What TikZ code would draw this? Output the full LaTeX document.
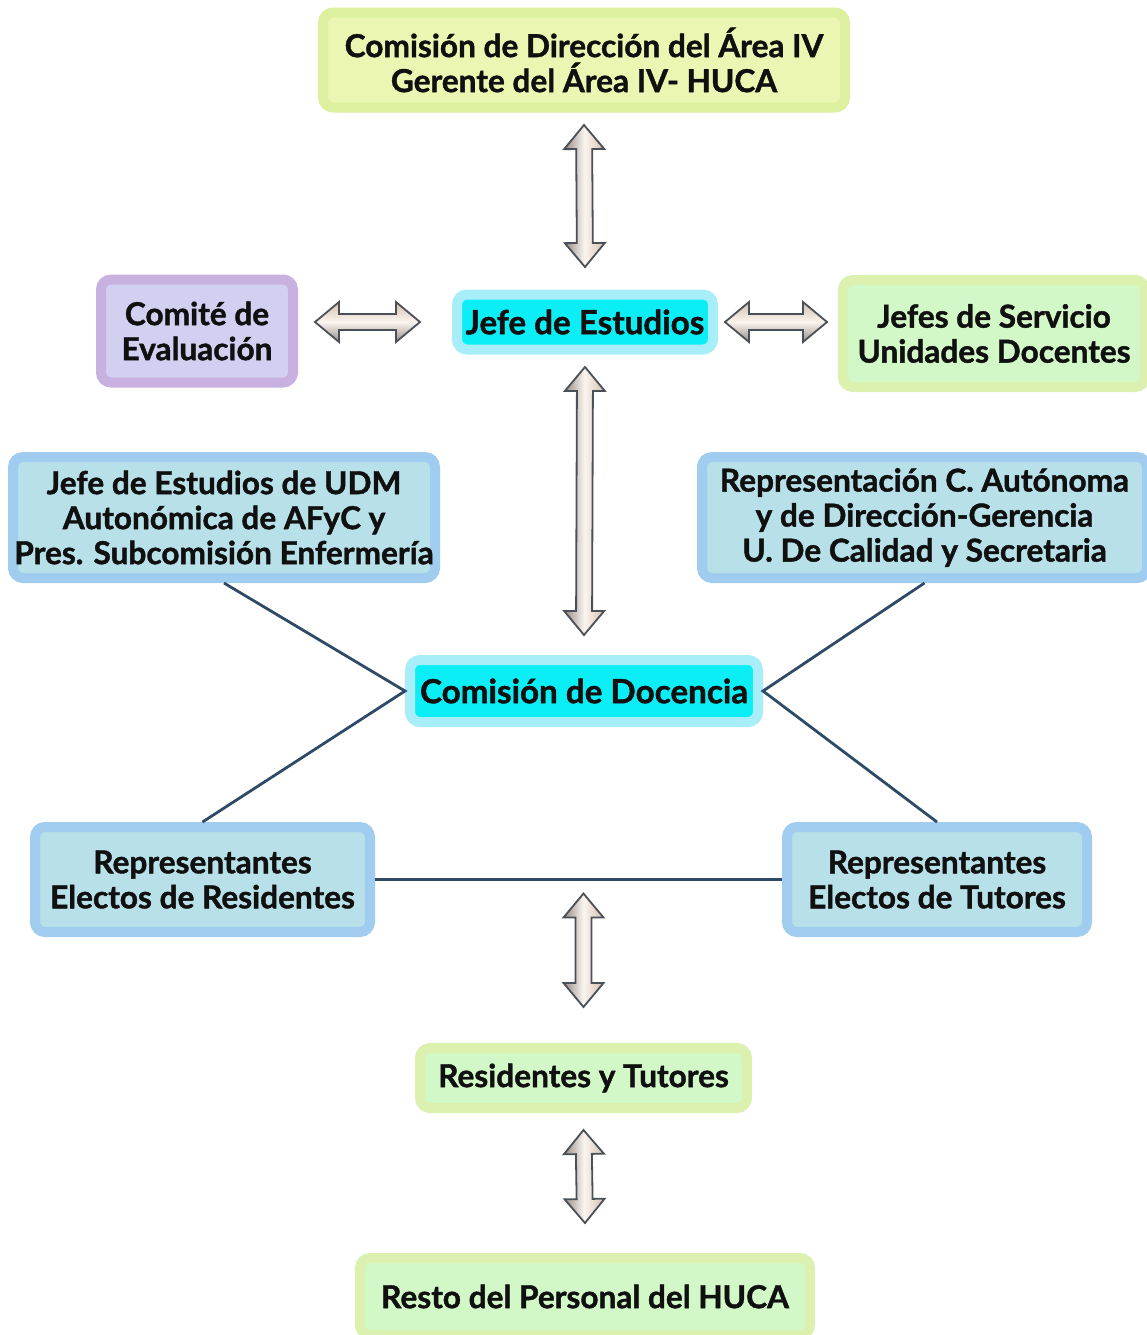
\documentclass[tikz,border=0pt]{standalone}
\usepackage{fontspec}
\setmainfont{Lato}[BoldFeatures={FakeBold=1.3}]
\usetikzlibrary{calc}
\definecolor{txt}{HTML}{101010}
\definecolor{ygfill}{HTML}{EAF6B2}
\definecolor{ygdraw}{HTML}{DDF0A0}
\definecolor{grfill}{HTML}{D2F8C8}
\definecolor{grdraw}{HTML}{DCF0B0}
\definecolor{pufill}{HTML}{D2D0F0}
\definecolor{pudraw}{HTML}{C8B0E0}
\definecolor{cyfill}{HTML}{0CEEF6}
\definecolor{cydraw}{HTML}{A8EEF8}
\definecolor{blfill}{HTML}{B8E0E8}
\definecolor{bldraw}{HTML}{A0CCF0}
\definecolor{arrdraw}{HTML}{4A5058}
\definecolor{arrL}{HTML}{948A84}
\definecolor{arrM}{HTML}{FBF5F0}
\definecolor{arrR}{HTML}{D2C0AE}
\definecolor{linec}{HTML}{2E4A66}
\begin{document}
\begin{tikzpicture}[x=0.5pt,y=-0.5pt,
  box/.style={rounded corners=5pt, line width=5pt, inner sep=0pt, align=center,
    font=\bfseries\fontsize{15.8}{17.5}\selectfont, text=txt},
  ygbox/.style={box, fill=ygfill, draw=ygdraw},
  grbox/.style={box, fill=grfill, draw=grdraw},
  pubox/.style={box, fill=pufill, draw=pudraw},
  cybox/.style={box, fill=cyfill, draw=cydraw, font=\bfseries\fontsize{16.6}{18}\selectfont},
  blbox/.style={box, fill=blfill, draw=bldraw},
  blockarrow/.style={draw=arrdraw, line width=0.9pt, line join=miter,
    to path={
      -- ($(\tikztostart)!12pt!(\tikztotarget)!10pt!90:(\tikztotarget)$)
      -- ($(\tikztostart)!12pt!(\tikztotarget)!4pt!90:(\tikztotarget)$)
      -- ($(\tikztotarget)!12pt!(\tikztostart)!4pt!-90:(\tikztostart)$)
      -- ($(\tikztotarget)!12pt!(\tikztostart)!10pt!-90:(\tikztostart)$)
      -- (\tikztotarget)
      -- ($(\tikztotarget)!12pt!(\tikztostart)!10pt!90:(\tikztostart)$)
      -- ($(\tikztotarget)!12pt!(\tikztostart)!4pt!90:(\tikztostart)$)
      -- ($(\tikztostart)!12pt!(\tikztotarget)!4pt!-90:(\tikztotarget)$)
      -- ($(\tikztostart)!12pt!(\tikztotarget)!10pt!-90:(\tikztotarget)$)
      -- cycle}},
  varrow/.style={blockarrow, left color=arrL, right color=arrR, middle color=arrM},
  harrow/.style={blockarrow, top color=arrR, bottom color=arrL, middle color=arrM},
  conn/.style={draw=linec, line width=1.4pt}
]
\useasboundingbox (0,0) rectangle (1147,1335);
\fill[white] (0,0) rectangle (1147,1335);

\node[ygbox, minimum width=261pt, minimum height=47.5pt] (top) at (584,60)
  {Comisión de Dirección del Área IV\\Gerente del Área IV- HUCA};
\node[pubox, minimum width=96pt, minimum height=51.5pt] (comite) at (197,331)
  {Comité de\\Evaluación};
\node[cybox, minimum width=128pt, minimum height=27.5pt] (jefe) at (585,322)
  {Jefe de Estudios};
\node[grbox, minimum width=151pt, minimum height=53.5pt] (servicio) at (994,333.5)
  {Jefes de Servicio\\Unidades Docentes};
\node[blbox, minimum width=211pt, minimum height=60.5pt] (udm) at (224,517.5)
  {Jefe de Estudios de UDM\\Autonómica de AFyC y\\Pres. Subcomisión Enfermería};
\node[blbox, minimum width=222.5pt, minimum height=60.5pt] (repr) at (924.5,517.5)
  {Representación C. Autónoma\\y de Dirección-Gerencia\\U. De Calidad y Secretaria};
\node[cybox, minimum width=174pt, minimum height=31pt] (docencia) at (584,691)
  {Comisión de Docencia};
\node[blbox, minimum width=167.5pt, minimum height=52.5pt] (resid) at (202.5,879.5)
  {Representantes\\Electos de Residentes};
\node[blbox, minimum width=150pt, minimum height=52.5pt] (tutores) at (937,879.5)
  {Representantes\\Electos de Tutores};
\node[grbox, minimum width=163.5pt, minimum height=30pt] (ryt) at (583.5,1078)
  {Residentes y Tutores};
\node[grbox, minimum width=225pt, minimum height=38.5pt] (resto) at (585,1296.5)
  {Resto del Personal del HUCA};

% block arrows
\draw[varrow] ([yshift=-6.25pt]top.south) to ([yshift=11.25pt]jefe.north);
\draw[varrow] ([yshift=-6.25pt]jefe.south) to ([yshift=10pt]docencia.north);
\draw[harrow] ([xshift=8.5pt]comite.east |- jefe.west) to ([xshift=-16pt]jefe.west);
\draw[harrow] ([xshift=3.5pt]jefe.east) to ([xshift=-5.5pt]servicio.west |- jefe.east);
\draw[varrow] ([yshift=-7pt]ryt.north |- resid.east) to ([yshift=18pt]ryt.north);
\draw[varrow] ([yshift=-8.5pt]ryt.south) to ([yshift=15pt]resto.north);

% connectors
\draw[conn] (udm.south) -- (docencia.west) -- (resid.north);
\draw[conn] (repr.south) -- (docencia.east) -- (tutores.north);
\draw[conn] (resid.east) -- (tutores.west);
\end{tikzpicture}
\end{document}
